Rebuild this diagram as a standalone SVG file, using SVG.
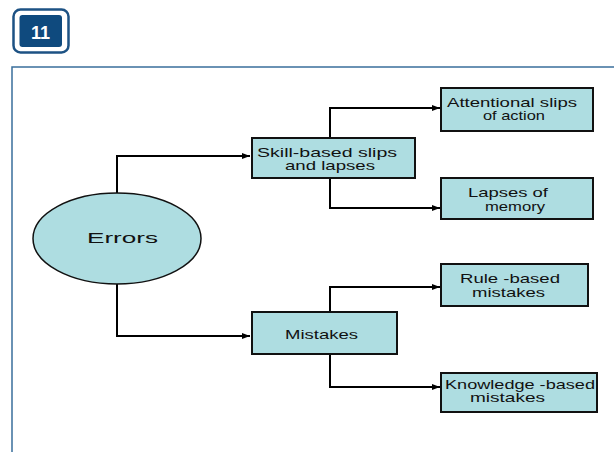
<svg xmlns="http://www.w3.org/2000/svg" width="614" height="452" viewBox="0 0 614 452">
<defs>
<marker id="arr" markerWidth="8" markerHeight="6" refX="8" refY="3" orient="auto" markerUnits="userSpaceOnUse">
<path d="M0,0 L8,3 L0,6 z" fill="#000"/>
</marker>
<style>
.box{fill:#aedde1;stroke:#111;stroke-width:2}
.t{font-family:"Liberation Sans",Arial,sans-serif;font-size:13px;fill:#111;text-anchor:middle}
.conn{fill:none;stroke:#000;stroke-width:2;marker-end:url(#arr)}
</style>
</defs>
<rect width="614" height="452" fill="#fff"/>
<g id="badge">
<rect x="13.5" y="9.5" width="55" height="43" rx="7" fill="#fff" stroke="#1d5284" stroke-width="2.5"/>
<rect x="19.5" y="15" width="42.5" height="32" rx="3" fill="#0f4a7e"/>
<text x="40.5" y="38.5" font-family="Liberation Sans,Arial,sans-serif" font-size="18" font-weight="bold" fill="#fff" text-anchor="middle">11</text>
</g>
<g id="frame" stroke="#3a6f9c" stroke-width="1.5" fill="none">
<path d="M12,452 L12,67 L614,67"/>
</g>
<g id="connectors">
<path class="conn" d="M117,193 V156 H250"/>
<path class="conn" d="M117,284 V336 H250"/>
<path class="conn" d="M330,138 V108 H440"/>
<path class="conn" d="M330,178 V208 H440"/>
<path class="conn" d="M330,312 V287 H440"/>
<path class="conn" d="M330,354 V387 H440"/>
</g>
<g id="errors">
<ellipse cx="117" cy="238.5" rx="84" ry="45.5" fill="#aedde1" stroke="#111" stroke-width="1.5"/>
<text class="t" x="122.5" y="242.5" style="font-size:15.5px" textLength="71" lengthAdjust="spacingAndGlyphs">Errors</text>
</g>
<g id="skill">
<rect class="box" x="252" y="138" width="163" height="40"/>
<text class="t" x="327" y="156.5" textLength="140" lengthAdjust="spacingAndGlyphs">Skill-based slips</text>
<text class="t" x="330" y="169.5" textLength="90" lengthAdjust="spacingAndGlyphs">and lapses</text>
</g>
<g id="attentional">
<rect class="box" x="441" y="88" width="152" height="43"/>
<text class="t" x="512" y="107" textLength="130" lengthAdjust="spacingAndGlyphs">Attentional slips</text>
<text class="t" x="514" y="120" textLength="62" lengthAdjust="spacingAndGlyphs">of action</text>
</g>
<g id="lapses">
<rect class="box" x="441" y="178" width="152" height="41"/>
<text class="t" x="508" y="197" textLength="80" lengthAdjust="spacingAndGlyphs">Lapses of</text>
<text class="t" x="515" y="211" textLength="60" lengthAdjust="spacingAndGlyphs">memory</text>
</g>
<g id="mistakes">
<rect class="box" x="252" y="312" width="145" height="42"/>
<text class="t" x="321.5" y="339" textLength="73" lengthAdjust="spacingAndGlyphs">Mistakes</text>
</g>
<g id="rule">
<rect class="box" x="441" y="264" width="147" height="42"/>
<text class="t" x="510" y="283" textLength="100" lengthAdjust="spacingAndGlyphs">Rule -based</text>
<text class="t" x="508.5" y="297" textLength="73" lengthAdjust="spacingAndGlyphs">mistakes</text>
</g>
<g id="knowledge">
<rect class="box" x="441" y="373" width="156" height="39"/>
<text class="t" x="520" y="389" textLength="150" lengthAdjust="spacingAndGlyphs">Knowledge -based</text>
<text class="t" x="507.5" y="402" textLength="75" lengthAdjust="spacingAndGlyphs">mistakes</text>
</g>
</svg>
